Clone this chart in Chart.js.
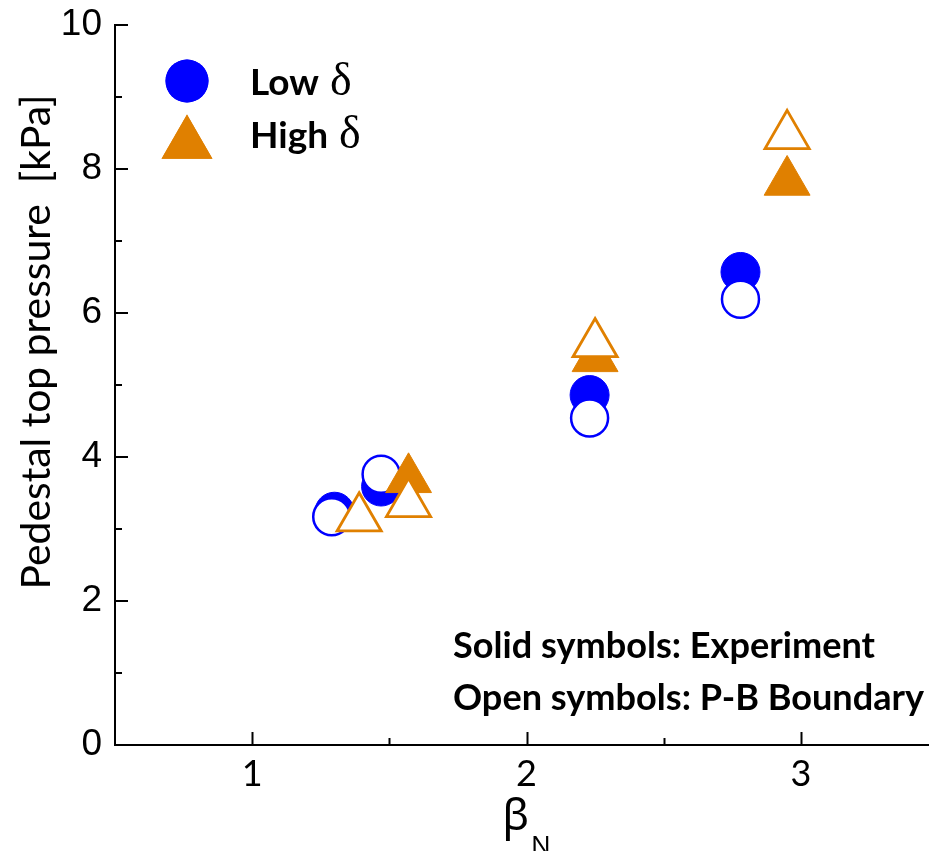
<!DOCTYPE html>
<html>
<head>
<meta charset="utf-8">
<script src="https://cdn.jsdelivr.net/npm/chart.js@4.4.1/dist/chart.umd.min.js"></script>
<style>
  html, body { margin: 0; padding: 0; background: #fff; overflow: hidden; }
  #wrap { width: 938px; height: 851px; }
</style>
</head>
<body>
<div id="wrap"><canvas id="myChart" width="938" height="851"></canvas></div>
<script>
// values
var lowExpX  = [1.30, 1.47, 2.23, 2.78];
var lowExpY  = [3.24, 3.59, 4.86, 6.57];
var lowPbX   = [1.29, 1.47, 2.23, 2.78];
var lowPbY   = [3.17, 3.76, 4.54, 6.19];
var highExpX = [1.57, 2.25, 2.95];
var highExpY = [3.69, 5.37, 7.82];
var highPbX  = [1.39, 1.57, 2.25, 2.95];
var highPbY  = [3.15, 3.35, 5.57, 8.46];

var xTicks = [1, 1.5, 2, 2.5, 3];
var yTicks = [0, 1, 2, 3, 4, 5, 6, 7, 8, 9, 10];
var legendLabels = ['Low', 'High'];
var noteLines = ['Solid symbols: Experiment', 'Open symbols: P-B Boundary'];
var yTitle = 'Pedestal top pressure  [kPa]';

var BLUE = '#0000FF';
var ORANGE = '#E08000';

function pts(xs, ys) {
  return xs.map(function(x, i) { return { x: x, y: ys[i] }; });
}

// pick a font size so a text fills a given width
function fitSize(text, width, font) {
  var c = document.createElement('canvas').getContext('2d');
  c.font = font.replace('SIZE', '100px');
  return 100 * width / c.measureText(text).width;
}

var titleSize = fitSize(yTitle, 495, 'SIZE Lato');
var noteSize = fitSize(noteLines[0], 422, 'bold SIZE Lato');

function noPad(scale) {
  scale.paddingLeft = 0;
  scale.paddingRight = 0;
  scale.paddingTop = 0;
  scale.paddingBottom = 0;
}

// inward ticks, legend, notes and the axis titles
var extras = {
  id: 'extras',
  afterDraw: function(chart) {
    var ctx = chart.ctx;
    var area = chart.chartArea;
    var xs = chart.scales.x, ys = chart.scales.y;
    ctx.save();
    ctx.strokeStyle = '#000';
    ctx.lineWidth = 2;
    xs.ticks.forEach(function(t) {
      var px = Math.round(xs.getPixelForValue(t.value)) + 0.5;
      var len = Number.isInteger(t.value) ? 13 : 7;
      ctx.beginPath();
      ctx.moveTo(px, area.bottom);
      ctx.lineTo(px, area.bottom - len);
      ctx.stroke();
    });
    ys.ticks.forEach(function(t) {
      var py = Math.round(ys.getPixelForValue(t.value));
      var len = t.value % 2 === 0 ? 13 : 7;
      ctx.beginPath();
      ctx.moveTo(area.left, py);
      ctx.lineTo(area.left + len, py);
      ctx.stroke();
    });

    // legend
    ctx.fillStyle = BLUE;
    ctx.beginPath();
    Chart.helpers.drawPoint(ctx, { pointStyle: 'circle', radius: 21.5, borderWidth: 0 }, 187, 81);
    ctx.fill();
    ctx.fillStyle = ORANGE;
    ctx.beginPath();
    Chart.helpers.drawPoint(ctx, { pointStyle: 'triangle', radius: 29.4, borderWidth: 0 }, 187, 144);
    ctx.fill();

    ctx.fillStyle = '#000';
    ctx.textBaseline = 'alphabetic';
    ctx.textAlign = 'left';
    var ly = [95, 148];
    legendLabels.forEach(function(lab, i) {
      ctx.font = 'bold 37px Lato';
      ctx.fillText(lab, 250, ly[i]);
      var w = ctx.measureText(lab + ' ').width;
      ctx.font = '46px "Liberation Serif"';
      ctx.fillText('\u03b4', 250 + w + 2, ly[i]);
    });

    // notes
    ctx.font = 'bold ' + noteSize + 'px Lato';
    ctx.fillText(noteLines[0], 453, 658);
    ctx.fillText(noteLines[1], 453, 710);

    // x title: beta with subscript N
    ctx.font = '44px "Noto Sans"';
    var wb = ctx.measureText('\u03b2').width;
    ctx.font = '26px "Noto Sans"';
    var wn = ctx.measureText('N').width;
    var cx = (area.left + area.right) / 2;
    var sx = cx - (wb + wn + 2) / 2;
    ctx.font = '44px "Noto Sans"';
    ctx.fillText('\u03b2', sx, 830);
    ctx.font = '26px "Noto Sans"';
    ctx.fillText('N', sx + wb + 2, 854);

    // y title
    ctx.translate(50, 342);
    ctx.rotate(-Math.PI / 2);
    ctx.textAlign = 'center';
    ctx.font = titleSize + 'px Lato';
    ctx.fillText(yTitle, 0, 0);
    ctx.restore();
  }
};

var ctx = document.getElementById('myChart').getContext('2d');

var myChart = new Chart(ctx, {
  type: 'scatter',
  data: {
    datasets: [
      {
        label: 'Low delta, experiment',
        data: pts(lowExpX, lowExpY),
        pointStyle: 'circle',
        pointRadius: 19.5,
        backgroundColor: BLUE,
        borderColor: BLUE,
        borderWidth: 1,
        order: 3
      },
      {
        label: 'Low delta, P-B boundary',
        data: pts(lowPbX, lowPbY),
        pointStyle: 'circle',
        pointRadius: 18.5,
        backgroundColor: '#fff',
        borderColor: BLUE,
        borderWidth: 2.5,
        order: 2
      },
      {
        label: 'High delta, experiment',
        data: pts(highExpX, highExpY),
        pointStyle: 'triangle',
        pointRadius: 26.5,
        backgroundColor: ORANGE,
        borderColor: ORANGE,
        borderWidth: 1,
        order: 1
      },
      {
        label: 'High delta, P-B boundary',
        data: pts(highPbX, highPbY),
        pointStyle: 'triangle',
        pointRadius: 25.5,
        backgroundColor: '#fff',
        borderColor: ORANGE,
        borderWidth: 2.8,
        order: 0
      }
    ]
  },
  plugins: [extras],
  options: {
    responsive: false,
    animation: false,
    events: [],
    layout: { autoPadding: false, padding: { top: 25, left: 0, right: 0, bottom: 0 } },
    plugins: {
      legend: { display: false },
      tooltip: { enabled: false }
    },
    scales: {
      x: {
        type: 'linear',
        min: 0.5,
        max: 3.5,
        afterBuildTicks: function(scale) {
          scale.ticks = xTicks.map(function(v) { return { value: v }; });
        },
        afterFit: function(scale) { scale.height = 106; noPad(scale); },
        grid: { drawOnChartArea: false, drawTicks: false },
        border: { display: true, color: '#000', width: 2 },
        ticks: {
          color: '#000',
          padding: 8,
          maxRotation: 0,
          autoSkip: false,
          font: { family: 'Lato', size: 36 },
          callback: function(v) { return Number.isInteger(v) ? String(v) : ''; }
        }
      },
      y: {
        type: 'linear',
        min: 0,
        max: 10,
        afterBuildTicks: function(scale) {
          scale.ticks = yTicks.map(function(v) { return { value: v }; });
        },
        afterFit: function(scale) { scale.width = 115; noPad(scale); },
        grid: { drawOnChartArea: false, drawTicks: false },
        border: { display: true, color: '#000', width: 2 },
        ticks: {
          color: '#000',
          padding: 13,
          autoSkip: false,
          font: { family: '"Liberation Sans"', size: 37 },
          callback: function(v) { return v % 2 === 0 ? String(v) : ''; }
        }
      }
    }
  }
});
</script>
</body>
</html>
